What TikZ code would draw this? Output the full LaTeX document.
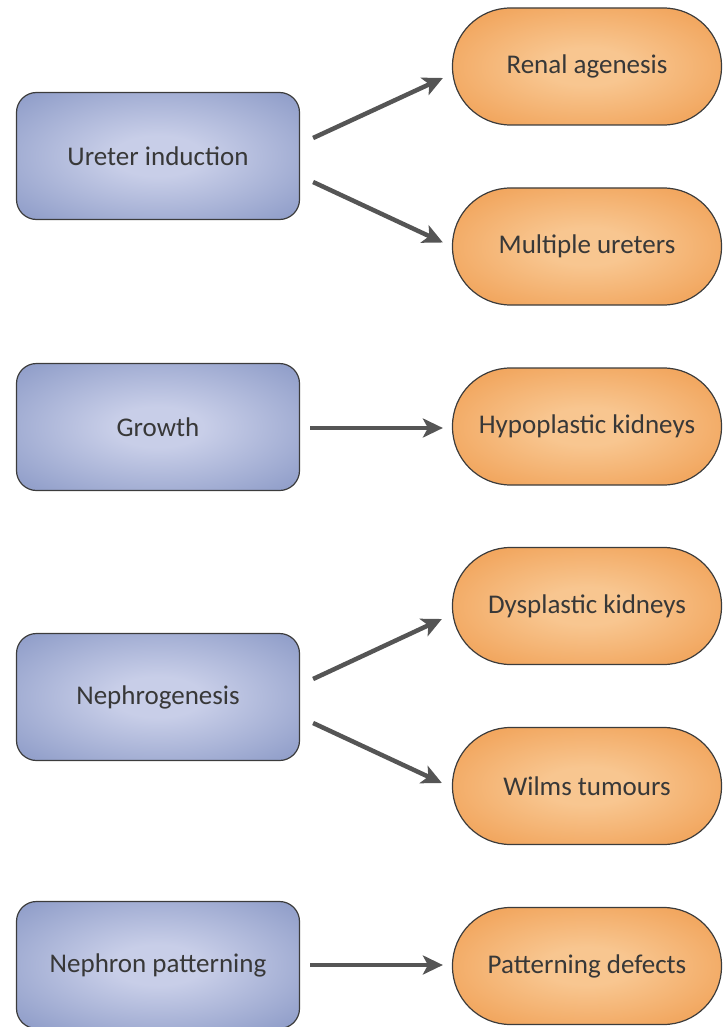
\documentclass[tikz,border=0pt]{standalone}
\usepackage{fontspec}
\setmainfont{Carlito}
\usetikzlibrary{arrows.meta}

\definecolor{stagein}{HTML}{C8CEE8}
\definecolor{stageout}{HTML}{8796C4}
\definecolor{defectin}{HTML}{F8C690}
\definecolor{defectout}{HTML}{EF994A}
\definecolor{rim}{HTML}{3C3C3C}
\definecolor{arrowgrey}{HTML}{555555}
\definecolor{txt}{HTML}{383838}

% soft glow in the middle of each box
\pgfdeclareradialshading{stageglow}{\pgfpoint{0bp}{0bp}}{color(0bp)=(stagein); color(8bp)=(stagein); color(38bp)=(stageout); color(50bp)=(stageout)}
\pgfdeclareradialshading{defectglow}{\pgfpoint{0bp}{0bp}}{color(0bp)=(defectin); color(8bp)=(defectin); color(38bp)=(defectout); color(50bp)=(defectout)}

\begin{document}
\begin{tikzpicture}[x=1pt,y=1pt,
    stage/.style={draw=rim, line width=1.2pt, rounded corners=20pt, shading=stageglow,
      minimum width=283pt, minimum height=127pt, text=txt, font=\fontsize{27}{32}\selectfont},
    defect/.style={draw=rim, line width=1.2pt, rounded corners=58pt, shading=defectglow,
      minimum width=269pt, minimum height=117pt, text=txt, font=\fontsize{27}{32}\selectfont},
    arr/.style={draw=arrowgrey, line width=4.5pt, -{Stealth[length=20pt,width=19pt,inset=5pt]}}]
        \useasboundingbox (0,0) rectangle (723,-1027);
        % developmental steps
        \node[stage] (ui) at (158,-156) {Ureter induction};
        \node[stage] (gr) at (158,-427) {Growth};
        \node[stage] (ng) at (158,-697) {Nephrogenesis};
        \node[stage] (np) at (158,-965) {Nephron patterning};
        % resulting defects
        \node[defect] (ra) at (587,-66.5) {Renal agenesis};
        \node[defect] (mu) at (587,-246.5) {Multiple ureters};
        \node[defect] (hk) at (587,-426.5) {Hypoplastic kidneys};
        \node[defect] (dk) at (587,-606) {Dysplastic kidneys};
        \node[defect] (wt) at (587,-786) {Wilms tumours};
        \node[defect] (pd) at (587,-966) {Patterning defects};
        % arrows
        \draw[arr] ([shift={(13,18)}]ui.east) -- ([shift={(-9,-11.5)}]ra.west);
        \draw[arr] ([shift={(13,-26)}]ui.east) -- ([shift={(-9,4)}]mu.west);
        \draw[arr] ([shift={(10,-1)}]gr.east) -- ([xshift=-9,yshift=-1]gr.east -| hk.west);
        \draw[arr] ([shift={(13,18)}]ng.east) -- ([shift={(-10,-13)}]dk.west);
        \draw[arr] ([shift={(13,-26)}]ng.east) -- ([shift={(-10,3)}]wt.west);
        \draw[arr] ([xshift=10]np.east) -- ([xshift=-9]np.east -| pd.west);
\end{tikzpicture}
\end{document}
